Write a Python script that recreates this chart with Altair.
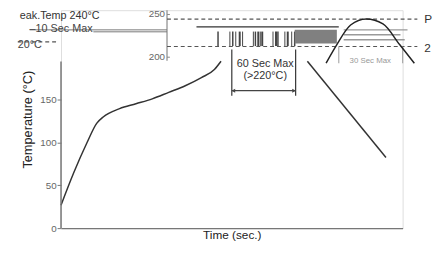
import altair as alt
import pandas as pd

FONT = "Liberation Sans"

# ---- data (time in s, temperature in °C) ----
curve_t = [0, 12.0, 24.2, 33.4, 39.5, 54.9, 70.2, 85.5, 100.9, 116.4, 131.5, 143.7, 149.9]
curve_T = [26.8, 65.1, 99.6, 122.6, 130.1, 139.8, 145.5, 151.3, 158.9, 166.6, 176.1, 185.7, 195.3]

peak_t = [248.3, 258.4, 271.3, 286.0, 301.6, 317.2, 331.0]
peak_T = [193.0, 214.8, 237.7, 244.6, 238.9, 214.8, 193.0]

cool_t = [230.8, 304.4]
cool_T = [195.3, 82.7]

y_tick_values = [0, 50, 100, 150]
inset_tick_values = [200, 250]
inset_tick_labels = ["200", "250"]

barcode_t = [147.1, 158.2, 160.9, 163.7, 167.4, 170.1, 180.2, 182.1, 184.8,
             186.7, 188.5, 198.6, 201.4, 203.2, 209.7, 212.4, 216.1, 218.9]
barcode_w = [1.5, 1, 1.5, 1, 2, 1, 1, 1.5, 2, 1, 2, 1, 2, 1.5, 1, 2, 1, 1.5]

# segments: t, t2, T, T2, kind
seg_t = [99.3, 99.3, 126.9, -29.4, 30.3, 160.0, 219.8, 260.2, 320.0, -40.5, 0]
seg_t2 = [333.8, 333.8, 260.2, 99.3, 99.3, 160.0, 219.8, 260.2, 320.0, -3.7, 0]
seg_T = [244.6, 212.5, 235.5, 232.0, 229.7, 209.0, 209.0, 212.5, 212.5, 218.0, 0]
seg_T2 = [244.6, 212.5, 235.5, 232.0, 229.7, 155.0, 155.0, 193.0, 193.0, 218.0, 195.0]
seg_kind = ["dash", "dash", "solid", "thin", "thin", "solid", "solid", "light", "light", "dash", "axis"]

grey_lines_t = [264.8, 264.8, 264.8]
grey_lines_t2 = [324.6, 318.0, 322.0]
grey_lines_T = [232.0, 226.3, 220.5]

labels_text = ["eak.Temp 240°C", "–10 Sec Max", "20°C", "60 Sec Max", "(>220°C)", "30 Sec Max", "P", "2"]
labels_t = [-38.6, -29.4, -40.5, 191.3, 191.3, 289.7, 340.2, 340.2]
labels_T = [248.0, 233.0, 214.8, 191.8, 178.0, 195.3, 244.6, 211.0]
labels_align = ["left", "left", "left", "center", "center", "center", "left", "left"]
labels_size = [11, 11, 11, 11, 11, 8, 12, 12]
labels_color = ["#333", "#444", "#444", "#333", "#333", "#999", "#333", "#333"]

xs = alt.Scale(domain=[0, 320], nice=False, zero=False)
ys = alt.Scale(domain=[0, 255], nice=False, zero=False)

base_x = alt.X("t:Q", scale=xs, axis=alt.Axis(title="Time (sec.)", labels=False, ticks=False, grid=False,
                                                domainColor="#777", domainWidth=1.5,
                                                titleFont=FONT, titleFontSize=12, titleFontWeight="normal",
                                                titleColor="#222", titlePadding=2))
base_y = alt.Y("T:Q", scale=ys, axis=alt.Axis(title="Temperature (°C)", values=y_tick_values, domain=False,
                                                grid=False, tickSize=4, tickColor="#777",
                                                labelFont=FONT, labelFontSize=10, labelColor="#666",
                                                labelPadding=1,
                                                titleFont=FONT, titleFontSize=13, titleFontWeight="normal",
                                                titleColor="#222", titlePadding=5))

df_curve = pd.DataFrame({"t": curve_t, "T": curve_T})
curve = alt.Chart(df_curve).mark_line(color="#333", strokeWidth=1.5, interpolate="monotone").encode(
    x=base_x, y=base_y)

df_peak = pd.DataFrame({"t": peak_t, "T": peak_T})
peak = alt.Chart(df_peak).mark_line(color="#222", strokeWidth=1.5, interpolate="monotone").encode(
    x="t:Q", y="T:Q")

df_cool = pd.DataFrame({"t": cool_t, "T": cool_T})
cool = alt.Chart(df_cool).mark_line(color="#333", strokeWidth=1.5).encode(x="t:Q", y="T:Q")

df_seg = pd.DataFrame({"t": seg_t, "t2": seg_t2, "T": seg_T, "T2": seg_T2, "kind": seg_kind})
dash = alt.Chart(df_seg[df_seg.kind == "dash"]).mark_rule(color="#555", strokeWidth=1.2, strokeDash=[4, 3]).encode(
    x="t:Q", x2="t2:Q", y="T:Q", y2="T2:Q")
solid = alt.Chart(df_seg[df_seg.kind == "solid"]).mark_rule(color="#333", strokeWidth=1.2).encode(
    x="t:Q", x2="t2:Q", y="T:Q", y2="T2:Q")
thin = alt.Chart(df_seg[df_seg.kind == "thin"]).mark_rule(color="#777", strokeWidth=1).encode(
    x="t:Q", x2="t2:Q", y="T:Q", y2="T2:Q")
light = alt.Chart(df_seg[df_seg.kind == "light"]).mark_rule(color="#aaa", strokeWidth=1.2).encode(
    x="t:Q", x2="t2:Q", y="T:Q", y2="T2:Q")
axis_line = alt.Chart(df_seg[df_seg.kind == "axis"]).mark_rule(color="#777", strokeWidth=1.5).encode(
    x="t:Q", x2="t2:Q", y="T:Q", y2="T2:Q")

# inset axis
df_inset_axis = pd.DataFrame({"t": [99.3], "T": [196.0], "T2": [255.0]})
inset_axis = alt.Chart(df_inset_axis).mark_rule(color="#888", strokeWidth=1.2).encode(
    x="t:Q", y="T:Q", y2="T2:Q")
df_inset_ticks = pd.DataFrame({"t": [99.3] * 2, "t2": [102.0] * 2, "T": inset_tick_values,
                               "lab": inset_tick_labels})
inset_ticks = alt.Chart(df_inset_ticks).mark_rule(color="#888").encode(x="t:Q", x2="t2:Q", y="T:Q")
inset_labels = alt.Chart(df_inset_ticks).mark_text(align="right", dx=-2, font=FONT, fontSize=10,
                                                   color="#666").encode(x="t:Q", y="T:Q", text="lab:N")

# barcode
df_bar = pd.DataFrame({"t": barcode_t, "w": barcode_w, "T": [230.0] * len(barcode_t),
                       "T2": [213.0] * len(barcode_t)})
barcode = alt.Chart(df_bar).mark_rule(color="#444").encode(
    x="t:Q", y="T:Q", y2="T2:Q", strokeWidth=alt.StrokeWidth("w:Q", scale=None))

df_rect = pd.DataFrame({"t": [218.9], "t2": [258.4], "T": [232.0], "T2": [216.0]})
grey_rect = alt.Chart(df_rect).mark_rect(color="#808080").encode(x="t:Q", x2="t2:Q", y="T:Q", y2="T2:Q")

df_grey = pd.DataFrame({"t": grey_lines_t, "t2": grey_lines_t2, "T": grey_lines_T})
grey_lines = alt.Chart(df_grey).mark_rule(color="#999", strokeWidth=1.5).encode(x="t:Q", x2="t2:Q", y="T:Q")

# arrow
df_arrow = pd.DataFrame({"t": [160.0], "t2": [219.8], "T": [160.8]})
arrow_line = alt.Chart(df_arrow).mark_rule(color="#444", strokeWidth=1.2).encode(x="t:Q", x2="t2:Q", y="T:Q")
df_heads = pd.DataFrame({"t": [161.5, 218.3], "T": [160.8, 160.8], "shape": ["triangle-left", "triangle-right"]})
heads = alt.Chart(df_heads).mark_point(filled=True, color="#444", size=18, opacity=1).encode(
    x="t:Q", y="T:Q", shape=alt.Shape("shape:N", scale=None))

# texts
df_lab = pd.DataFrame({"t": labels_t, "T": labels_T, "text": labels_text, "align": labels_align,
                       "size": labels_size, "color": labels_color})
texts = []
for i in range(len(labels_text)):
    texts.append(alt.Chart(df_lab.iloc[[i]]).mark_text(
        align=labels_align[i], baseline="middle", font=FONT, fontSize=labels_size[i],
        color=labels_color[i]).encode(x="t:Q", y="T:Q", text="text:N"))

chart = alt.layer(curve, axis_line, inset_axis, inset_ticks, inset_labels, dash, thin, solid, light,
                  barcode, grey_rect, grey_lines, peak, cool, arrow_line, heads, *texts).properties(
    width=348, height=222,
    autosize=alt.AutoSizeParams(type="none"),
    padding={"left": 54, "top": 0, "right": 33, "bottom": 18},
).configure_view(stroke=None).configure(background="white")

chart.save("out.html", embed_options={"renderer": "svg", "actions": False})
